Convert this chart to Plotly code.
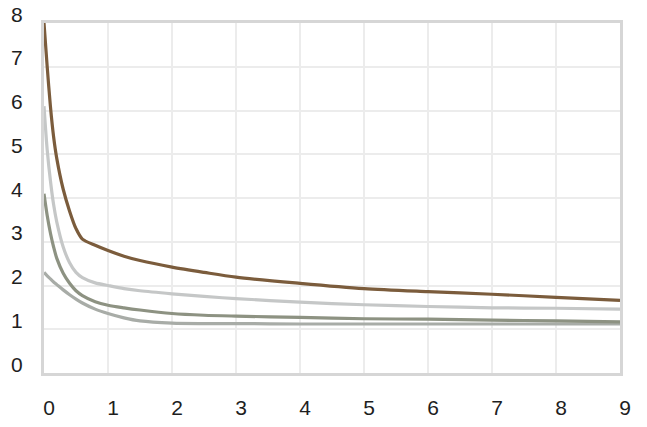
import plotly.graph_objects as go

# x positions shared by all four curves
x_vals = [0, 0.05, 0.1, 0.15, 0.2, 0.3, 0.4, 0.5, 0.6, 0.8, 1, 1.25, 1.5, 2, 2.5, 3, 4, 5, 6, 7, 8, 9]

brown_vals = [8.0, 7.0, 6.1, 5.4, 4.9, 4.2, 3.7, 3.3, 3.06, 2.92, 2.8, 2.67, 2.57, 2.42, 2.3, 2.19,
              2.05, 1.93, 1.86, 1.80, 1.73, 1.66]
light_vals = [6.1, 5.1, 4.4, 3.85, 3.45, 2.88, 2.52, 2.3, 2.18, 2.06, 2.0, 1.93, 1.88, 1.81, 1.75, 1.70,
              1.62, 1.56, 1.52, 1.49, 1.48, 1.46]
green_vals = [4.1, 3.6, 3.2, 2.88, 2.62, 2.28, 2.05, 1.88, 1.77, 1.63, 1.55, 1.49, 1.44, 1.36, 1.32, 1.30,
              1.27, 1.24, 1.23, 1.21, 1.19, 1.17]
low_vals = [2.3, 2.22, 2.15, 2.08, 2.02, 1.9, 1.79, 1.69, 1.6, 1.46, 1.36, 1.26, 1.19, 1.14, 1.13, 1.13,
            1.12, 1.12, 1.12, 1.12, 1.12, 1.12]

x_ticks = list(range(0, 10))
y_ticks = list(range(0, 9))

FONT = dict(family='Liberation Sans, Arial, sans-serif', size=21, color='#1e1e1e')

fig = go.Figure()

series = [
    (low_vals, '#a8aca7'),
    (green_vals, '#8d9282'),
    (light_vals, '#c5c7c7'),
    (brown_vals, '#7b5c3c'),
]
for vals, col in series:
    fig.add_trace(go.Scatter(x=x_vals, y=vals, mode='lines',
                             line=dict(color=col, width=3.2, shape='spline', smoothing=0.8),
                             hoverinfo='skip', showlegend=False))

# y labels sit a little above their grid lines, so draw them as annotations
# (plotly hides the top tick label once it is shifted past the plot edge)
for v in y_ticks:
    fig.add_annotation(text=str(v), x=0, xref='paper', y=v, yref='y',
                       xanchor='right', yanchor='middle', xshift=-19, yshift=9,
                       showarrow=False, font=FONT)

axis_common = dict(
    showgrid=True, gridcolor='#ececec', gridwidth=2,
    showline=True, linecolor='#d6d6d6', linewidth=3, mirror=True,
    zeroline=False, ticks='', fixedrange=True, automargin=False,
    tickfont=FONT,
)

fig.update_layout(
    width=647, height=427,
    margin=dict(l=44, r=27, t=23, b=54),
    paper_bgcolor='white', plot_bgcolor='white',
    xaxis=dict(range=[0, 9], tickvals=x_ticks, ticklabelshift=5, ticklabelstandoff=14, **axis_common),
    yaxis=dict(range=[0, 8], tickvals=y_ticks, showticklabels=False, **axis_common),
)

# drop the default body margin so the figure fills the window exactly
fig.write_html("out.html", config=dict(displayModeBar=False),
               post_script="document.body.style.margin='0';")
